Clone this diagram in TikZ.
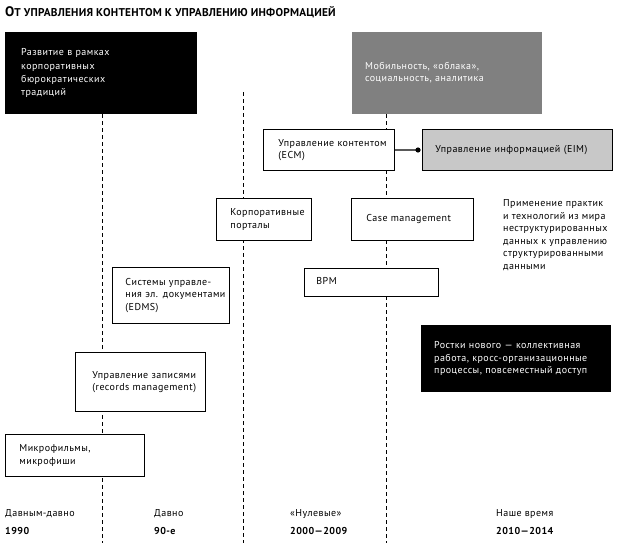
\documentclass[tikz,border=0pt]{standalone}
\usepackage{fontspec}
\setmainfont[LetterSpace=4.5]{PT Sans}
\newfontfamily\titlefont[LetterSpace=2]{PT Sans}
\newcommand{\lines}[1]{\begin{tabular}{@{}l@{}}#1\end{tabular}}
\begin{document}
\begin{tikzpicture}[x=1pt,y=-1pt,
  every node/.style={font=\fontsize{10}{12.5}\selectfont},
  divider/.style={line width=0.9pt, dash pattern=on 4pt off 3pt},
  box/.style={draw=black, line width=0.9pt, fill=white, anchor=north west, align=left, inner ysep=0pt},
  darkbox/.style={fill=black, text=white, anchor=north west, align=left, inner ysep=0pt},
  graybox/.style={fill=gray50, text=white, anchor=north west, align=left, inner ysep=0pt},
  label/.style={anchor=west, inner sep=0pt, align=left},
]
\definecolor{gray50}{HTML}{808080}
\definecolor{lightgray}{HTML}{C8C8C8}
\renewcommand{\arraystretch}{1.0}
\useasboundingbox (0,0) rectangle (621,543);
\fill[white] (0,0) rectangle (621,543);

% title
\node[label, font=\titlefont\bfseries] (title) at (5,12) {{\fontsize{13.8}{13}\selectfont О}{\fontsize{11.3}{12}\selectfont Т УПРАВЛЕНИЯ КОНТЕНТОМ К УПРАВЛЕНИЮ ИНФОРМАЦИЕЙ}};

% timeline dividers
\coordinate (d1t) at (102,114); \coordinate (d1b) at (102,543);
\coordinate (d2t) at (243,92);  \coordinate (d2b) at (243,543);
\coordinate (d3t) at (386,114); \coordinate (d3b) at (386,543);
\draw[divider] (d1t) -- (d1b);
\draw[divider] (d2t) -- (d2b);
\draw[divider] (d3t) -- (d3b);

% top boxes
\node[darkbox, minimum width=192, minimum height=82, text width=192-32, inner xsep=16] (bureau) at (5,32)
  {\renewcommand{\arraystretch}{1.07}\lines{Развитие в рамках\\корпоративных\\бюрократических\\традиций}};
\node[graybox, minimum width=190, minimum height=82, text width=190-26, inner xsep=13] (mobile) at (352,32)
  {\lines{Мобильность, «облака»,\\социальность, аналитика}};

% ECM and EIM
\node[box, minimum width=131, minimum height=41, text width=131-30, inner xsep=15] (ecm) at (263,129)
  {\lines{Управление контентом\\(ECM)}};
\node[box, fill=lightgray, minimum width=190, minimum height=41, text width=190-26, inner xsep=13] (eim) at (422,129)
  {\lines{Управление информацией (EIM)}};
\coordinate (dot) at (418,150);
\draw[line width=1.2pt] (ecm.east) -- (dot);
\fill (dot) circle (2.6);

% middle row
\node[box, minimum width=95, minimum height=42, text width=95-28, inner xsep=14] (portals) at (216,198)
  {\lines{Корпоративные\\порталы}};
\node[box, minimum width=122, minimum height=42, text width=122-30, inner xsep=15] (case) at (351,198)
  {\lines{Case management}};
\node[label, anchor=north west] (apply) at (503,198)
  {\lines{Применение практик\\и технологий из мира\\неструктурированных\\данных к управлению\\структурированными\\данными}};

\node[box, minimum width=117, minimum height=56, text width=117-26, inner xsep=13] (edms) at (112,267)
  {\lines{Системы управле-\\ния эл. документами\\(EDMS)}};
\node[box, minimum width=134, minimum height=28, text width=134-24, inner xsep=12] (bpm) at (304,268)
  {\lines{BPM}};

\node[darkbox, minimum width=190, minimum height=67, text width=190-26, inner xsep=13] (sprouts) at (421,325)
  {\lines{Ростки нового — коллективная\\работа, кросс-организационные\\процессы, повсеместный доступ}};

\node[box, minimum width=130, minimum height=59, text width=130-34, inner xsep=17] (records) at (75,352)
  {\lines{Управление записями\\(records management)}};
\node[box, minimum width=139, minimum height=42, text width=139-28, inner xsep=14] (micro) at (5,434)
  {\lines{Микрофильмы,\\микрофиши}};

% bottom labels
\node[label] (p1a) at (5,514) {Давным-давно};
\node[label, font=\fontsize{10}{12}\bfseries] (p1b) at (5,531) {1990};
\node[label] (p2a) at (154,514) {Давно};
\node[label, font=\fontsize{10}{12}\bfseries] (p2b) at (154,531) {90-е};
\node[label] (p3a) at (290,514) {«Нулевые»};
\node[label, font=\fontsize{10}{12}\bfseries] (p3b) at (290,531) {2000—2009};
\node[label] (p4a) at (496,514) {Наше время};
\node[label, font=\fontsize{10}{12}\bfseries] (p4b) at (496,531) {2010—2014};
\end{tikzpicture}
\end{document}
